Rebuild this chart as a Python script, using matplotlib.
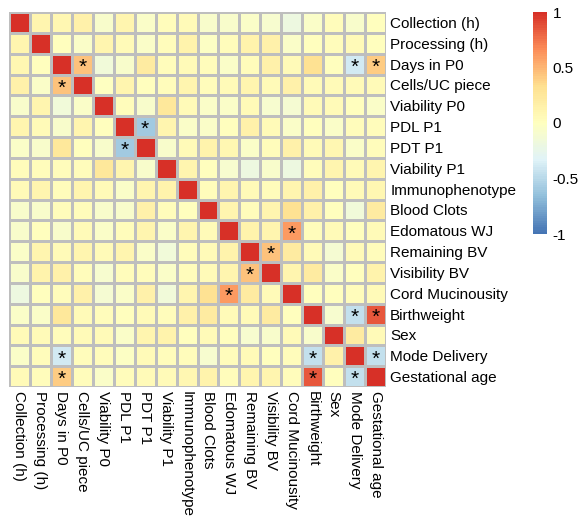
import numpy as np
import matplotlib
matplotlib.use("Agg")
import matplotlib.pyplot as plt
from matplotlib.colors import LinearSegmentedColormap

plt.rcParams['font.family'] = ['Liberation Sans', 'DejaVu Sans']

# Variables (lignes = colonnes)
labels = ["Collection (h)", "Processing (h)", "Days in P0", "Cells/UC piece",
          "Viability P0", "PDL P1", "PDT P1", "Viability P1", "Immunophenotype",
          "Blood Clots", "Edomatous WJ", "Remaining BV", "Visibility BV",
          "Cord Mucinousity", "Birthweight", "Sex", "Mode Delivery",
          "Gestational age"]

# Matrice de correlation
corr = np.array([
    [1.00, 0.10, 0.08, 0.15, -0.08, 0.10, -0.05, 0.03, 0.05, -0.08, -0.08, -0.05, -0.10, -0.20, -0.05, 0.03, -0.08, 0.00],
    [0.10, 1.00, 0.00, -0.05, 0.10, 0.05, -0.05, 0.03, 0.12, -0.03, 0.03, 0.12, 0.15, -0.05, 0.00, 0.03, 0.05, 0.00],
    [0.08, 0.00, 1.00, 0.45, -0.15, -0.08, 0.20, 0.03, 0.05, 0.02, -0.05, 0.03, 0.15, 0.05, 0.30, 0.00, -0.40, 0.40],
    [0.15, -0.05, 0.45, 1.00, -0.02, 0.10, 0.00, 0.03, 0.10, 0.03, 0.05, 0.10, 0.05, 0.15, 0.05, 0.05, 0.05, 0.05],
    [-0.08, 0.10, -0.15, -0.05, 1.00, 0.03, -0.08, 0.25, 0.05, -0.05, -0.05, 0.05, -0.10, -0.12, 0.05, 0.05, 0.00, -0.05],
    [0.10, 0.05, -0.08, 0.10, 0.00, 1.00, -0.60, 0.10, -0.05, -0.05, 0.00, 0.15, 0.05, -0.05, 0.00, -0.05, 0.03, 0.02],
    [-0.05, -0.08, 0.25, 0.00, -0.08, -0.60, 1.00, -0.08, 0.05, 0.12, 0.08, -0.05, 0.03, 0.15, 0.05, 0.08, -0.05, 0.03],
    [0.03, 0.03, 0.03, 0.03, 0.25, 0.10, -0.08, 1.00, 0.10, 0.00, -0.10, -0.20, -0.08, -0.20, 0.03, 0.10, 0.05, 0.10],
    [0.05, 0.10, 0.03, 0.10, 0.05, -0.05, 0.10, 0.12, 1.00, 0.03, 0.10, 0.05, 0.03, 0.10, 0.15, 0.00, 0.05, 0.08],
    [-0.08, -0.08, 0.03, 0.03, -0.08, -0.08, 0.15, 0.03, 0.00, 1.00, 0.10, 0.03, 0.10, 0.30, 0.15, 0.00, -0.15, 0.20],
    [-0.08, 0.00, -0.08, 0.05, -0.05, 0.03, 0.10, -0.05, 0.10, 0.05, 1.00, 0.12, 0.10, 0.60, 0.03, 0.05, 0.00, 0.05],
    [-0.05, 0.10, 0.05, 0.10, 0.05, 0.10, -0.05, -0.15, 0.03, 0.05, 0.12, 1.00, 0.45, 0.20, 0.05, -0.12, 0.05, 0.03],
    [-0.08, 0.12, 0.15, 0.03, -0.10, 0.03, 0.03, -0.05, 0.03, 0.05, 0.10, 0.45, 1.00, 0.10, 0.20, -0.05, 0.00, 0.12],
    [-0.20, 0.00, 0.03, 0.15, -0.12, -0.05, 0.15, -0.15, 0.10, 0.30, 0.60, 0.20, 0.05, 1.00, 0.00, 0.00, 0.03, 0.05],
    [-0.05, -0.05, 0.25, 0.05, 0.03, 0.00, 0.05, 0.03, 0.15, 0.20, 0.05, 0.05, 0.20, 0.00, 1.00, -0.10, -0.45, 0.85],
    [0.05, 0.05, 0.03, 0.05, 0.05, -0.05, 0.10, 0.12, 0.00, 0.05, 0.00, -0.10, -0.08, 0.05, -0.08, 1.00, 0.20, 0.05],
    [-0.05, 0.03, -0.40, 0.03, 0.03, -0.03, 0.05, 0.03, 0.03, -0.10, 0.03, 0.05, 0.00, 0.03, -0.45, 0.15, 1.00, -0.45],
    [0.05, 0.03, 0.40, 0.03, -0.05, 0.03, 0.05, 0.05, 0.08, 0.12, 0.03, 0.10, 0.10, 0.03, 0.85, 0.00, -0.45, 1.00],
])

# Paires significatives (ligne, colonne)
signif = [(2, 3), (2, 16), (2, 17), (5, 6), (10, 13), (11, 12),
          (14, 16), (14, 17), (16, 17)]

n = len(labels)
cmap = LinearSegmentedColormap.from_list(
    "rdylbu", ["#4575B4", "#91BFDB", "#E0F3F8", "#FFFFBF",
               "#FEE090", "#FC8D59", "#D73027"], N=100)

fig = plt.figure(figsize=(5.82, 5.26), dpi=100)
ax = fig.add_axes([9/582, 1-387/526, 377/582, 375/526])
mesh = ax.pcolormesh(np.arange(n+1), np.arange(n+1), corr, cmap=cmap,
                     vmin=-1, vmax=1, edgecolors="#BEBEBE", linewidth=1)
ax.set_xlim(0, n)
ax.set_ylim(n, 0)

for (i, j) in signif:
    for (r, c) in [(i, j), (j, i)]:
        ax.text(c + 0.5, r + 0.65, "*", ha="center", va="center",
                fontsize=15, color="black")

ax.yaxis.tick_right()
ax.set_yticks(np.arange(n) + 0.5)
ax.set_yticklabels(labels, fontsize=11)
ax.set_xticks(np.arange(n) + 0.5)
ax.set_xticklabels(labels, fontsize=11, rotation=270, va="top", ha="center")
ax.tick_params(length=0, pad=3)
for s in ax.spines.values():
    s.set_visible(False)

# Barre de couleur
cax = fig.add_axes([533/582, 1-234/526, 14/582, 222/526])
cb = fig.colorbar(mesh, cax=cax, ticks=[-1, -0.5, 0, 0.5, 1])
cb.ax.set_yticklabels(["-1", "-0.5", "0", "0.5", "1"], fontsize=11)
cb.ax.tick_params(length=0, pad=4)
cb.outline.set_visible(False)

fig.savefig("out.png", dpi=100)
